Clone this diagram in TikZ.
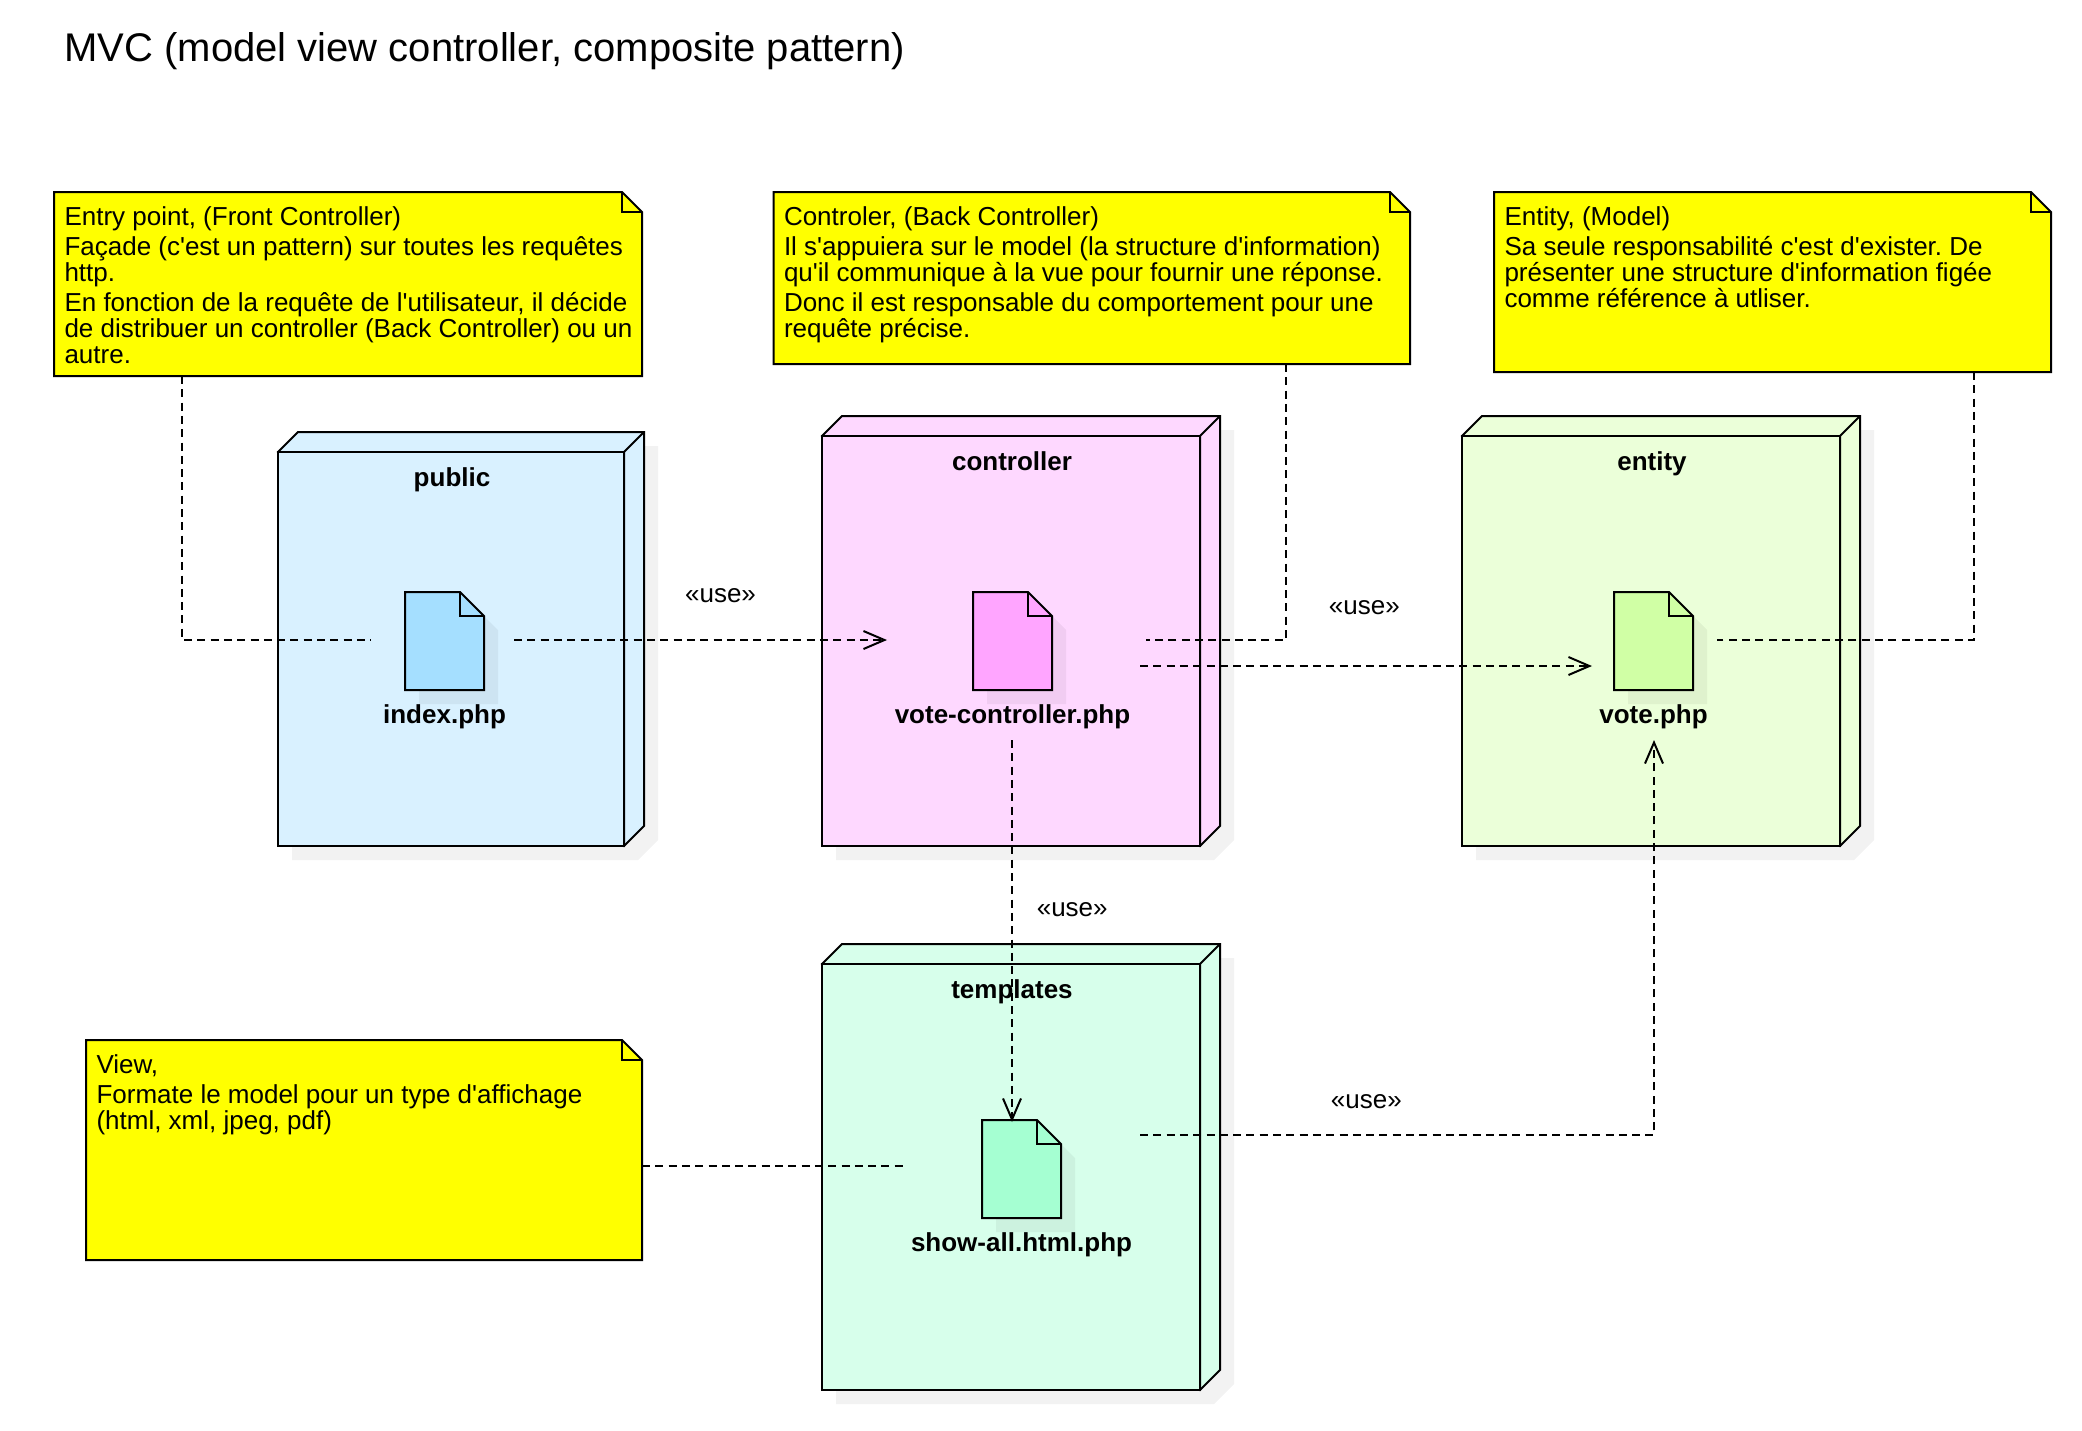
\documentclass[tikz,border=0pt]{standalone}
\usepackage{fontspec}
\setmainfont{Liberation Sans}[Ligatures=TeXOff]
\frenchspacing
\usetikzlibrary{arrows.meta}
\usetikzlibrary{positioning}

\definecolor{noteYellow}{HTML}{FFFF00}
\definecolor{pkgPublic}{HTML}{D9F1FF}
\definecolor{pkgController}{HTML}{FED8FF}
\definecolor{pkgEntity}{HTML}{EBFFD9}
\definecolor{pkgTemplates}{HTML}{D7FFEB}
\definecolor{filePublic}{HTML}{A5DFFF}
\definecolor{fileController}{HTML}{FFA5FF}
\definecolor{fileEntity}{HTML}{D0FFA5}
\definecolor{fileTemplates}{HTML}{A5FFD2}

\begin{document}
\begin{tikzpicture}[x=1pt, y=-1pt, line width=2pt]
\tikzset{ghost/.style = {inner sep=0, outer sep=0, anchor=north west}}
\tikzset{castshadow/.style = {fill=black, opacity=.05, draw=none}}
\tikzset{bodytext/.style = {font=\fontsize{26}{26}\selectfont\frenchspacing}}
\tikzset{headtext/.style = {font=\fontsize{40}{44}\selectfont\frenchspacing, inner sep=0, anchor=west}}
\tikzset{notetext/.style = {bodytext, inner sep=0, anchor=north west, align=left}}
\tikzset{boldname/.style = {font=\fontsize{26}{26}\bfseries\selectfont, inner sep=0, text height=19pt, text depth=7pt}}
\tikzset{uselabel/.style = {bodytext, inner sep=0}}
\tikzset{dep/.style = {line width=2pt, dash pattern=on 8pt off 5.3pt}}
\tikzset{edge/.style = {dep, -{Straight Barb[length=21pt, width=18pt, line width=2pt]}}}

\useasboundingbox (0,0) rectangle (2082,1430);
\fill[white] (0,0) rectangle (2082,1430);

\node[headtext] (heading) at (63.5,51) {MVC (model view controller, composite pattern)};

% packages
\foreach \nm/\lbl/\x/\y/\w/\h/\col in {
  public/public/278/452/346/394/pkgPublic,
  controller/controller/822/436/378/410/pkgController,
  entity/entity/1462/436/378/410/pkgEntity,
  templates/templates/822/964/378/426/pkgTemplates}
{
  \fill[castshadow] (\x+34,\y-6) -- ++(\w,0) -- ++(0,\h) -- ++(-20,20) -- ++(-\w,0) -- ++(0,-\h) -- cycle;
  \draw[fill=\col] (\x,\y) -- ++(20,-20) -- ++(\w,0) -- ++(0,\h) -- ++(-20,20) -- cycle;
  \draw (\x+\w,\y+\h) -- ++(0,-\h) -- ++(20,-20);
  \node[ghost, draw, fill=\col, minimum width=\w pt, minimum height=\h pt] (\nm) at (\x,\y) {};
  \node[boldname, below=14pt of \nm.north, xshift=1pt] (\nm Label) {\lbl};
}

% files
\foreach \nm/\lbl/\x/\y/\col in {
  indexFile/index.php/405/592/filePublic,
  voteControllerFile/vote-controller.php/973/592/fileController,
  voteFile/vote.php/1614/592/fileEntity,
  showAllFile/show-all.html.php/982/1120/fileTemplates}
{
  \fill[castshadow] (\x+14,\y+14) -- ++(55,0) -- ++(24,24) -- ++(0,74) -- ++(-79,0) -- cycle;
  \draw[fill=\col] (\x,\y) -- ++(55,0) -- ++(24,24) -- ++(0,74) -- ++(-79,0) -- cycle;
  \draw (\x+55,\y) -- ++(0,24) -- ++(24,0);
  \node[ghost, minimum width=79pt, minimum height=98pt] (\nm) at (\x,\y) {};
  \node[boldname, below=13pt of \nm] (\nm Label) {\lbl};
}

% notes
\foreach \nm/\x/\y/\w/\h/\txt in {
  entryNote/54/192/588/184/{Entry point, (Front Controller)\\[4pt]
    Façade (c'est un pattern) sur toutes les requêtes\\ http.\\[4pt]
    En fonction de la requête de l'utilisateur, il décide\\
    de distribuer un controller (Back Controller) ou un\\ autre.},
  backNote/773.5/192/636.5/172/{Controler, (Back Controller)\\[4pt]
    Il s'appuiera sur le model (la structure d'information)\\
    qu'il communique à la vue pour fournir une réponse.\\[4pt]
    Donc il est responsable du comportement pour une\\ requête précise.},
  modelNote/1494/192/557/180/{Entity, (Model)\\[4pt]
    Sa seule responsabilité c'est d'exister. De\\
    présenter une structure d'information figée\\ comme référence à utliser.},
  viewNote/86/1040/556/220/{View,\\[4pt]
    Formate le model pour un type d'affichage\\ (html, xml, jpeg, pdf)}}
{
  \draw[fill=noteYellow] (\x,\y) -- ++(\w-20,0) -- ++(20,20) -- ++(0,\h-20) -- ++(-\w,0) -- cycle;
  \draw (\x+\w-20,\y) -- ++(0,20) -- ++(20,0);
  \node[ghost, minimum width=\w pt, minimum height=\h pt] (\nm) at (\x,\y) {};
  \node[notetext] (\nm Text) at (\x+9.5,\y+13.5) {\txt};
}

\coordinate (indexIn) at (371,640);
\coordinate (indexOut) at (514,640);
\coordinate (controllerIn) at (887,640);
\coordinate (controllerNote) at (1146,640);
\coordinate (controllerOut) at (1140,666);
\coordinate (controllerDown) at (1012,740);
\coordinate (voteIn) at (1592,666);
\coordinate (voteNote) at (1717,640);
\coordinate (voteUp) at (1654,740);
\coordinate (showIn) at (1012,1122);
\coordinate (showNote) at (903,1166);
\coordinate (showOut) at (1140,1135);

\draw[dep] (182,0 |- entryNote.south) |- (indexIn);
\draw[dep] (1286,0 |- backNote.south) |- (controllerNote);
\draw[dep] (1974,0 |- modelNote.south) |- (voteNote);
\draw[dep] (viewNote.east |- showNote) -- (showNote);
\draw[edge] (indexOut) -- (controllerIn);
\draw[edge] (controllerOut) -- (voteIn);
\draw[edge] (controllerDown) -- (showIn);
\draw[edge] (showOut) -| (voteUp);

\node[uselabel] (useIndex) at (720.5,595.5) {«use»};
\node[uselabel] (useVote) at (1364.3,607.5) {«use»};
\node[uselabel] (useShow) at (1072.2,909.5) {«use»};
\node[uselabel] (useBack) at (1366.3,1101.4) {«use»};
\end{tikzpicture}
\end{document}
